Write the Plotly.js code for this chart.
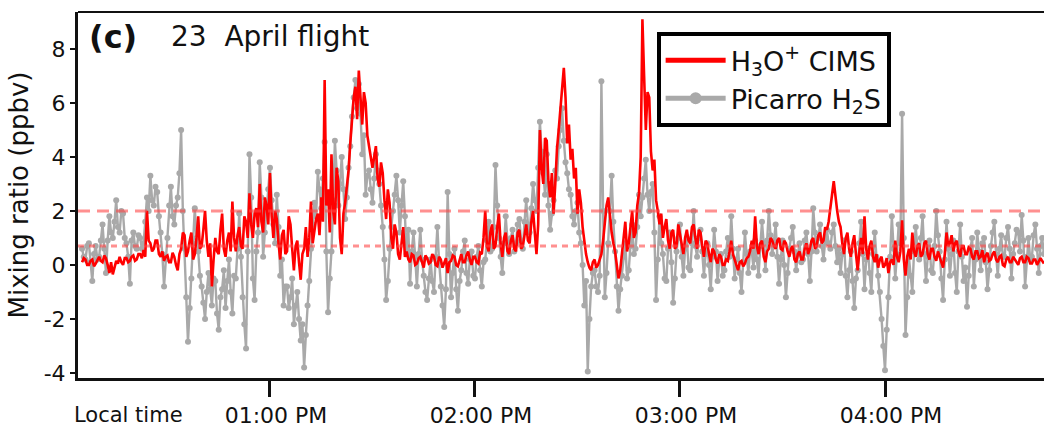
<!DOCTYPE html>
<html>
<head>
<meta charset="utf-8">
<script src="https://cdn.plot.ly/plotly-3.0.1.min.js"></script>
<style>
  html, body { margin: 0; padding: 0; background: #fff; }
  #chart { width: 1044px; height: 434px; }
</style>
</head>
<body>
<div id="chart"></div>
<script>
// ---- data ----
const flightDate = '2018-04-23';
const firstSampleSecondsAfterNoon = 300;   // first sample 12:05:00 PM
const sampleStepSeconds = 30;              // one sample every 30 s

// H3O+ CIMS H2S (ppbv)
const cimsH2S = [
  0.1,0.25, 0.2,0.0, 0.0,0.15, 0.2,-0.05, 0.05,0.2, 0.3,0.15, 0.1,0.35, 0.25,0.0, -0.3,0.1, -0.35,-0.1,
  0.15,0.05, 0.3,0.1, 0.0,0.25, 0.25,0.1, 0.15,0.3, 0.35,0.15, 0.2,0.4, 0.4,0.25, 0.55,0.3, 2.0,0.9,
  0.8,0.5, 0.6,0.9, 0.9,0.4, 0.3,0.5, 0.15,0.3, 0.35,0.1, 0.1,0.45, 0.3,0.0, -0.2,0.4, 0.6,1.2,
  1.1,0.3, 0.5,0.9, 1.2,0.2, 0.4,1.0, 1.8,0.6, 0.7,1.3, 2.0,0.9, 0.3,0.8, -0.8,0.2, 1.0,0.5,
  0.4,1.3, 1.9,0.6, 0.3,0.9, 1.2,0.5, 2.35,1.0, 0.5,1.1, 1.4,0.7, 0.6,1.8, 1.6,1.0, 2.65,1.5,
  1.0,1.9, 2.1,1.4, 3.0,1.6, 1.2,2.5, 2.2,1.5, 3.4,1.8, 1.0,2.0, 1.7,0.8, 0.2,1.1, 1.3,0.4,
  0.5,1.8, 1.5,0.6, -0.2,0.7, 0.9,0.1, -0.55,0.4, 0.6,1.4, 0.3,1.0, 2.35,0.8, 1.2,1.7, 1.9,1.1,
  2.5,1.6, 6.85,2.2, 2.8,1.2, 4.1,2.0, 1.5,3.6, 3.1,1.0, 0.4,1.9, 2.3,2.9, 3.5,4.5, 5.5,6.2,
  6.6,5.4, 7.2,6.0, 5.2,6.4, 6.0,4.8, 4.4,3.9, 3.6,4.0, 4.4,3.2, 2.9,3.8, 3.4,2.4, 1.7,2.8,
  2.3,1.0, 0.6,1.5, 1.2,0.4, 0.2,0.8, 1.4,0.3, 0.5,0.2, 0.1,0.4, 0.35,0.0, 0.05,0.25, 0.3,0.1,
  -0.1,0.35, 0.25,0.05, 0.1,0.4, 0.3,0.0, -0.05,0.3, 0.2,-0.1, 0.05,0.25, -0.3,0.1, 0.15,0.35, 0.3,0.0,
  -0.05,0.2, 0.4,0.1, 0.1,0.35, 0.5,0.2, 0.0,0.3, 0.3,0.1, 0.05,0.45, 0.4,1.0, 2.0,0.7, 0.5,1.2,
  1.5,0.6, 0.7,1.4, 1.9,0.8, 0.3,1.0, 1.2,0.5, 0.4,0.9, 1.1,0.6, 0.5,1.2, 1.3,0.6, 0.7,1.1,
  1.5,0.9, 0.8,1.6, 2.0,1.2, 0.4,1.5, 5.0,3.6, 3.0,4.7, 4.6,3.1, 2.5,3.4, 1.9,3.0, 4.3,5.0,
  5.7,6.4, 7.3,6.2, 4.5,5.2, 3.9,4.3, 3.2,3.6, 1.9,2.8, 2.3,1.4, 0.8,0.4, 0.1,-0.1, -0.2,0.1,
  0.2,-0.1, 0.0,0.2, 0.4,0.9, 1.5,2.2, 2.5,1.7, 1.2,0.8, 0.5,0.0, -0.5,-0.2, 0.3,1.0, 1.6,0.5,
  0.8,1.4, 2.0,1.0, 1.2,2.2, 2.65,4.0, 9.1,7.0, 5.0,6.4, 6.2,4.2, 3.5,3.9, 2.4,2.0, 1.5,1.9,
  1.0,1.4, 1.7,0.9, 0.6,1.2, 1.3,0.6, 0.7,1.5, 1.1,0.7, 0.4,1.0, 1.3,0.9, 0.8,1.4, 1.5,1.0,
  0.6,1.3, 1.2,0.7, 0.3,0.9, 0.8,0.4, 0.1,0.6, 0.5,0.2, 0.05,0.4, 0.3,0.0, 0.0,0.2, 0.15,0.5,
  0.9,0.4, 0.2,0.0, -0.2,0.1, 0.15,-0.05, 0.05,0.25, 0.3,0.5, 0.9,0.6, 1.8,0.7, 0.4,0.8, 0.9,0.3,
  0.1,0.5, 0.6,1.0, 0.9,0.7, 0.6,0.9, 1.0,0.6, 0.55,0.9, 0.8,0.5, 0.3,0.6, 0.7,0.2, 0.1,0.4,
  0.5,0.2, 0.2,0.6, 0.8,0.4, 0.6,0.9, 1.0,0.6, 0.7,1.1, 1.2,0.8, 0.9,1.4, 1.3,1.6, 2.2,2.6,
  3.1,2.5, 2.0,1.6, 1.4,0.8, 0.4,1.0, 1.2,0.6, 0.3,0.8, 1.1,0.4, -0.2,0.5, 1.0,0.4, 1.8,0.6,
  0.2,0.7, 0.9,0.3, 0.1,0.4, -0.1,0.2, 0.3,-0.1, 0.0,0.25, -0.3,0.1, 0.2,0.0, 0.9,0.3, 0.1,0.5,
  1.65,0.2, -0.4,0.3, 0.6,0.2, 1.2,0.5, 0.3,0.7, 0.8,0.3, 0.4,0.8, 0.9,0.4, 0.2,0.6, 0.6,0.3,
  0.15,0.5, 0.3,0.05, -0.1,0.4, 1.2,0.7, 0.8,1.1, 0.5,0.8, 0.9,0.5, 0.3,0.7, 0.7,0.4, 0.4,0.65,
  0.6,0.3, 0.2,0.5, 0.5,0.25, 0.3,0.55, 0.1,0.35, 0.45,0.15, 0.2,0.4, 0.5,0.2, 0.1,0.3, 0.35,0.0,
  -0.05,0.2, 0.3,0.1, 0.1,0.3, 0.2,0.05, 0.0,0.25, 0.3,0.1, 0.1,0.3, 0.25,0.05, 0.05,0.2, 0.2,0.0,
  0.1,0.25, 0.15,0.05
];

// Picarro H2S (ppbv)
const picarroH2S = [
  0.6,0.3, 0.2,0.7, 0.8,0.1, -0.6,0.4, 0.7,0.2, 0.3,0.9, 1.5,0.6, -0.3,0.9, 1.8,1.2, 1.0,1.6,
  2.4,1.4, 1.2,2.0, 1.9,1.0, 0.8,0.3, -0.7,0.9, 1.2,0.7, 0.6,1.1, 1.0,0.6, 0.8,1.6, 2.5,2.0,
  3.3,2.4, 2.2,2.9, 2.7,1.8, 1.2,0.4, -0.8,0.2, 1.0,2.2, 2.9,1.8, 1.5,2.2, 2.5,3.4, 5.0,2.0,
  0.6,-1.2, -2.85,-1.6, -0.5,0.8, 2.1,1.0, 0.5,-0.4, -0.8,-1.4, -2.0,-1.0, -0.3,-0.9, -1.5,-0.5, -0.6,-1.8,
  -2.4,-1.2, -0.9,-0.2, -1.6,-0.6, 0.2,-1.0, -1.8,-0.4, -0.5,0.6, 1.9,0.3, -1.2,-2.2, -3.1,0.5, 4.1,2.5,
  -0.5,-1.3, 0.5,1.2, 3.8,2.5, 0.3,1.2, 2.0,2.8, 3.6,2.4, 1.5,0.8, 2.6,1.4, -0.4,0.2, -1.5,-0.8,
  -0.8,-1.6, -1.2,-0.5, -2.2,-1.5, -1.0,-2.0, -2.8,-2.2, -3.8,-2.6, -1.5,-0.6, 0.6,1.5, 2.3,1.8, 3.45,2.8,
  2.1,3.2, 4.55,0.5, -1.75,-0.5, 0.5,2.4, 4.6,3.5, 2.2,3.0, 4.0,2.8, 1.7,2.5, 3.6,4.4, 5.5,6.2,
  6.85,5.8, 6.7,5.6, 4.1,4.8, 2.6,3.3, 3.5,2.8, 2.3,3.2, 4.1,3.5, 3.0,2.2, 1.4,0.2, -1.3,-0.6,
  0.6,1.4, 2.0,2.6, 3.3,2.4, 1.2,2.2, 3.1,1.8, 0.4,1.3, -0.7,0.5, 1.2,0.3, -0.8,0.4, 1.3,0.2,
  -0.4,-1.0, -1.3,-0.5, 0.2,-0.6, -1.0,0.3, 1.4,0.1, -0.8,-1.5, -2.3,-0.9, 2.7,0.4, -1.2,-0.3, 0.6,-0.9,
  -1.7,-0.6, -0.2,0.5, 0.9,-0.3, -0.7,0.2, 0.5,-0.4, -0.5,0.3, 0.7,-0.2, -0.8,0.1, 0.2,0.9, 1.6,0.5,
  0.6,1.4, 3.7,2.2, 1.0,0.3, -0.3,0.8, 1.8,0.9, 0.4,1.0, 1.3,0.5, 0.8,1.5, 1.7,0.9, 0.6,1.6,
  2.4,1.5, 1.2,2.1, 3.0,2.4, 2.0,3.6, 5.3,4.2, 3.4,2.6, 4.1,2.2, 1.3,1.9, 2.4,3.5, 3.2,4.4,
  5.0,5.8, 4.6,3.8, 3.4,2.8, 2.6,1.8, 1.5,2.0, 2.3,1.2, 0.8,0.0, -1.5,-0.6, -3.95,-2.0, -0.8,-0.3,
  -0.2,-0.8, -1.0,-0.4, 6.8,2.0, -1.2,-0.3, 0.8,2.0, 3.3,1.6, 0.5,-0.8, -1.7,-0.9, -0.4,0.3, 0.8,-0.5,
  -0.2,0.7, 1.5,0.4, 0.6,1.4, 2.6,1.8, 2.5,3.2, 3.9,2.6, 2.0,2.7, 3.0,1.2, -1.3,0.2, 1.8,0.8,
  0.4,-0.5, -0.6,0.6, 1.2,0.1, -1.4,-0.5, 0.5,1.0, 1.5,0.3, -0.4,0.6, 1.0,-0.1, -0.2,0.8, 2.0,0.7,
  0.3,1.0, 1.3,0.5, -0.4,0.4, 0.8,0.0, -0.9,0.3, 1.3,0.5, -0.6,0.2, 0.4,-0.4, -0.2,0.5, 1.0,0.3,
  1.8,0.6, -0.5,0.2, 0.6,-0.3, -1.0,0.1, 1.2,0.4, -0.3,0.5, 0.5,-0.1, 0.9,0.2, -0.4,0.7, 1.6,0.8,
  -0.2,0.9, 2.0,1.1, 0.4,0.9, 1.5,0.3, -0.7,0.2, 0.9,0.0, -1.2,-0.3, 0.6,1.0, 1.4,0.5, -0.2,0.4,
  0.8,0.1, 0.2,0.9, 1.2,0.4, -0.6,0.5, 2.1,1.2, 0.5,1.0, 1.5,0.7, 0.2,0.9, 1.3,0.8, 0.6,1.2,
  1.5,0.7, 0.1,0.6, -0.3,0.4, 0.9,-0.4, -1.2,-0.2, 0.5,-0.6, -1.6,-0.5, -0.2,0.8, 1.6,0.4, -0.9,0.2,
  0.6,-0.3, -1.0,0.4, 1.2,0.3, -0.4,-1.0, -2.0,-3.0, -3.9,-2.4, -1.2,0.3, 1.8,0.6, -0.5,0.4, 1.5,0.8,
  5.6,1.0, -2.6,-1.2, 0.3,-0.4, -1.0,0.5, 1.4,0.6, 0.2,1.0, 1.8,0.4, -0.6,0.3, 0.9,-0.2, -0.3,0.7,
  2.0,1.1, 0.5,-0.5, -1.3,0.2, 1.6,0.6, -0.4,0.4, 0.9,-0.3, -1.0,0.5, 1.5,0.3, -0.6,-0.1, -1.55,-0.4,
  0.6,1.0, -0.8,0.2, 1.2,0.5, -0.2,0.8, 1.0,0.1, -0.9,-0.2, 0.7,1.2, 1.6,0.4, -0.4,0.6, 1.1,0.3,
  0.3,1.0, 1.4,0.6, -0.5,0.4, 0.8,1.3, 1.2,0.5, 1.85,0.9, -0.8,0.3, 1.0,0.2, 0.3,1.1, 1.5,0.6,
  -0.3,0.7, 1.0,0.4
];

const thresholdLevels = [2.0, 0.7];          // dashed / dotted reference levels (ppbv)
const tickTimes = ['13:00', '14:00', '15:00', '16:00'];
const tickLabels = ['01:00 PM', '02:00 PM', '03:00 PM', '04:00 PM'];
const yTickValues = [-4, -2, 0, 2, 4, 6, 8];
const yTickLabels = ['-4', '-2', '0', '2', '4', '6', '8'];
const viewStart = '12:03:49';
const viewEnd = '16:46:32';

// ---- build ----
function stamp(secAfterNoon) {
  const h = 12 + Math.floor(secAfterNoon / 3600);
  const m = Math.floor((secAfterNoon % 3600) / 60);
  const s = secAfterNoon % 60;
  const p = v => String(v).padStart(2, '0');
  return flightDate + ' ' + p(h) + ':' + p(m) + ':' + p(s);
}
const times = cimsH2S.map((_, i) => stamp(firstSampleSecondsAfterNoon + i * sampleStepSeconds));
const xStart = flightDate + ' ' + viewStart;
const xEnd = flightDate + ' ' + viewEnd;

const FONT = 'DejaVu Sans, Verdana, sans-serif';
const RED = '#ff0000';
const GREY = '#a9a9a9';

const traces = [
  {
    x: times, y: picarroH2S, type: 'scatter', mode: 'lines+markers',
    name: 'Picarro H<sub>2</sub>S',
    line: { color: GREY, width: 2.4 },
    marker: { color: GREY, size: 6 }
  },
  {
    x: times, y: cimsH2S, type: 'scatter', mode: 'lines',
    name: 'H<sub>3</sub>O<sup>+</sup> CIMS',
    line: { color: RED, width: 2.6 }
  },
  {
    x: [xStart, xEnd], y: [thresholdLevels[0], thresholdLevels[0]],
    type: 'scatter', mode: 'lines', showlegend: false, hoverinfo: 'skip',
    line: { color: 'rgba(255,70,70,0.6)', width: 3, dash: '12px,7px' }
  },
  {
    x: [xStart, xEnd], y: [thresholdLevels[1], thresholdLevels[1]],
    type: 'scatter', mode: 'lines', showlegend: false, hoverinfo: 'skip',
    line: { color: 'rgba(255,70,70,0.6)', width: 3, dash: '6px,5px' }
  }
];

const layout = {
  width: 1044, height: 434,
  margin: { l: 78, r: 0, t: 12, b: 56, pad: 0 },
  paper_bgcolor: '#fff', plot_bgcolor: '#fff',
  font: { family: FONT, color: '#111' },
  showlegend: true,
  legend: {
    x: 0.599, y: 0.945, xanchor: 'left', yanchor: 'top',
    bgcolor: '#fff', bordercolor: '#000', borderwidth: 4,
    font: { family: FONT, size: 27, color: '#111' },
    traceorder: 'reversed', itemsizing: 'constant', itemwidth: 60,
    tracegroupgap: 0
  },
  xaxis: {
    type: 'date', range: [xStart, xEnd],
    tickvals: tickTimes.map(t => flightDate + ' ' + t + ':00'),
    ticktext: tickLabels,
    ticks: 'outside', ticklen: 16, tickwidth: 3, tickcolor: '#111',
    ticklabelshift: 6,
    tickfont: { family: FONT, size: 22, color: '#111' },
    showgrid: false, zeroline: false,
    showline: true, linecolor: '#111', linewidth: 3
  },
  yaxis: {
    range: [-4.19, 9.37],
    tickvals: yTickValues, ticktext: yTickLabels,
    ticks: 'outside', ticklen: 5, tickwidth: 2, tickcolor: '#111',
    tickfont: { family: FONT, size: 22, color: '#111' },
    showgrid: false, zeroline: false,
    showline: true, linecolor: '#111', linewidth: 3,
    title: { text: 'Mixing ratio (ppbv)', font: { family: FONT, size: 26, color: '#111' }, standoff: 8 }
  },
  shapes: [
    { type: 'line', xref: 'paper', yref: 'paper', x0: 0, x1: 1, y0: 1, y1: 1,
      line: { color: '#111', width: 2 } }
  ],
  annotations: [
    { xref: 'paper', yref: 'paper', x: 0.0094, y: 0.932, xanchor: 'left', yanchor: 'middle',
      text: '<b>(c)</b>', showarrow: false, font: { family: FONT, size: 32, color: '#111' } },
    { xref: 'paper', yref: 'paper', x: 0.0942, y: 0.932, xanchor: 'left', yanchor: 'middle',
      text: '23&nbsp; April flight', showarrow: false, font: { family: FONT, size: 28, color: '#111' } },
    { xref: 'paper', yref: 'paper', x: -0.0062, y: -0.101, xanchor: 'left', yanchor: 'middle',
      text: 'Local time', showarrow: false, font: { family: FONT, size: 21, color: '#111' } }
  ]
};

Plotly.newPlot('chart', traces, layout, { displayModeBar: false, staticPlot: true });
</script>
</body>
</html>
